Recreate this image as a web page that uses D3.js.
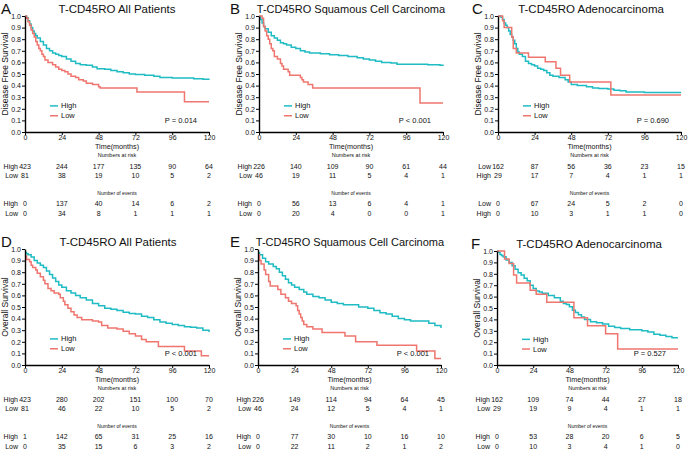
<!DOCTYPE html>
<html>
<head>
<meta charset="utf-8">
<script src="https://cdn.jsdelivr.net/npm/d3@7"></script>
<style>
  body { margin: 0; background: #fff; }
  text { font-family: "Liberation Sans", Arial, sans-serif; fill: #111; }
</style>
</head>
<body>
<svg id="chart" width="689" height="451"></svg>
<script>
const timeTicks = [0, 24, 48, 72, 96, 120];
const survTicks = [0, 0.1, 0.2, 0.3, 0.4, 0.5, 0.6, 0.7, 0.8, 0.9, 1.0];

// curves: [months, survival]
const dfsAllHigh = [[0,1],[1,0.985],[2,0.96],[3,0.93],[4,0.9],[5,0.87],[6,0.85],[7,0.83],[8,0.81],[10,0.78],[12,0.75],[14,0.72],[16,0.7],[18,0.68],[20,0.67],[22,0.66],[24,0.65],[27,0.63],[30,0.61],[33,0.59],[36,0.58],[40,0.575],[44,0.56],[47,0.545],[52,0.54],[56,0.53],[60,0.52],[64,0.51],[68,0.5],[72,0.495],[78,0.49],[84,0.48],[88,0.47],[96,0.465],[110,0.46],[116,0.455],[120,0.45]];
const dfsAllLow = [[0,1],[1,0.98],[2,0.95],[3,0.92],[4,0.88],[5,0.85],[6,0.82],[7,0.78],[8,0.75],[9,0.72],[10,0.7],[11,0.67],[12,0.65],[13,0.62],[15,0.6],[18,0.58],[20,0.56],[22,0.54],[24,0.53],[26,0.52],[28,0.5],[30,0.48],[33,0.47],[35,0.45],[38,0.44],[40,0.42],[44,0.41],[48,0.39],[49,0.38],[73,0.345],[104,0.26],[120,0.26]];

const dfsSccHigh = [[0,1],[1,0.97],[2,0.94],[3,0.91],[4,0.89],[6,0.86],[8,0.83],[10,0.81],[12,0.79],[14,0.77],[16,0.76],[18,0.75],[21,0.73],[24,0.72],[27,0.7],[30,0.69],[33,0.68],[40,0.675],[46,0.665],[52,0.66],[58,0.65],[64,0.64],[68,0.63],[72,0.62],[76,0.61],[80,0.6],[86,0.595],[90,0.585],[110,0.58],[118,0.575],[120,0.57]];
const dfsSccLow = [[0,1],[2,0.98],[3,0.91],[4,0.87],[5,0.83],[6,0.8],[7,0.76],[8,0.72],[9,0.7],[10,0.65],[12,0.63],[14,0.59],[15,0.57],[16,0.54],[19,0.52],[20,0.49],[27,0.47],[28,0.45],[29,0.43],[32,0.41],[35,0.38],[105,0.25],[120,0.25]];

const dfsAdenoHigh = [[0,1],[2,0.99],[3,0.97],[4,0.94],[5,0.92],[6,0.9],[7,0.87],[8,0.84],[9,0.82],[10,0.79],[11,0.76],[12,0.72],[13,0.69],[14,0.67],[16,0.65],[18,0.61],[20,0.59],[22,0.58],[24,0.57],[26,0.55],[28,0.54],[30,0.53],[32,0.51],[34,0.49],[36,0.48],[40,0.47],[44,0.45],[46,0.43],[48,0.41],[52,0.4],[58,0.39],[62,0.38],[66,0.375],[72,0.37],[76,0.36],[80,0.355],[84,0.345],[96,0.34],[120,0.34]];
const dfsAdenoLow = [[0,1],[3,0.96],[4,0.9],[9,0.82],[10,0.72],[12,0.68],[20,0.645],[31,0.605],[38,0.55],[41,0.49],[47,0.43],[74,0.32],[120,0.32]];

const osAllHigh = [[0,0.97],[1,0.96],[2,0.95],[4,0.93],[6,0.9],[8,0.88],[10,0.86],[12,0.84],[14,0.81],[16,0.78],[18,0.75],[20,0.72],[22,0.69],[24,0.67],[27,0.64],[30,0.62],[33,0.6],[36,0.58],[40,0.56],[44,0.53],[48,0.51],[52,0.49],[56,0.48],[60,0.47],[64,0.455],[68,0.445],[72,0.44],[76,0.42],[80,0.41],[84,0.39],[88,0.37],[92,0.36],[96,0.35],[100,0.34],[104,0.33],[108,0.325],[112,0.32],[116,0.3],[120,0.285]];
const osAllLow = [[0,0.94],[1,0.91],[3,0.89],[4,0.86],[5,0.84],[7,0.82],[8,0.79],[10,0.76],[12,0.73],[13,0.7],[15,0.66],[17,0.64],[19,0.62],[22,0.61],[23,0.58],[25,0.55],[26,0.52],[28,0.49],[30,0.46],[32,0.43],[34,0.41],[37,0.39],[44,0.38],[48,0.37],[50,0.34],[54,0.32],[60,0.31],[64,0.29],[68,0.27],[72,0.25],[76,0.22],[79,0.2],[87,0.16],[104,0.12],[115,0.08],[120,0.08]];

const osSccHigh = [[0,0.97],[1,0.95],[3,0.92],[5,0.89],[7,0.87],[10,0.85],[12,0.83],[14,0.8],[16,0.77],[18,0.74],[20,0.71],[22,0.69],[24,0.67],[27,0.65],[30,0.63],[32,0.61],[36,0.59],[40,0.58],[44,0.56],[48,0.54],[52,0.53],[56,0.52],[62,0.52],[66,0.5],[72,0.49],[76,0.47],[80,0.45],[84,0.44],[88,0.42],[92,0.4],[96,0.39],[100,0.38],[108,0.38],[112,0.36],[116,0.34],[120,0.32]];
const osSccLow = [[0,0.95],[1,0.9],[2,0.87],[4,0.82],[5,0.78],[7,0.72],[8,0.68],[13,0.65],[15,0.61],[18,0.58],[20,0.55],[22,0.53],[25,0.51],[26,0.47],[27,0.44],[28,0.41],[29,0.38],[30,0.35],[32,0.33],[36,0.31],[42,0.28],[57,0.25],[64,0.2],[78,0.17],[104,0.12],[116,0.055],[120,0.055]];

const osAdenoHigh = [[0,1],[1,0.99],[2,0.97],[3,0.96],[4,0.95],[6,0.92],[8,0.9],[10,0.87],[12,0.84],[14,0.81],[16,0.79],[18,0.76],[20,0.74],[22,0.7],[24,0.67],[26,0.65],[28,0.64],[30,0.63],[34,0.61],[38,0.59],[42,0.56],[44,0.54],[46,0.53],[48,0.51],[50,0.48],[52,0.46],[54,0.44],[56,0.42],[58,0.4],[62,0.38],[66,0.37],[70,0.36],[74,0.34],[78,0.33],[82,0.32],[88,0.31],[96,0.3],[100,0.29],[104,0.27],[108,0.26],[112,0.25],[116,0.24],[120,0.24]];
const osAdenoLow = [[0,1],[5,0.93],[8,0.89],[11,0.79],[13,0.72],[22,0.655],[26,0.62],[33,0.55],[51,0.415],[60,0.345],[72,0.275],[80,0.14],[120,0.14]];

// numbers at risk / number of events at 0,24,...,120
const riskA = [[423,244,177,135,90,64],[81,38,19,10,5,2]];
const eventsA = [[0,137,40,14,6,2],[0,34,8,1,1,1]];
const riskB = [[226,140,109,90,61,44],[46,19,11,5,4,1]];
const eventsB = [[0,56,13,6,4,1],[0,20,4,0,0,1]];
const riskC = [[162,87,56,36,23,15],[29,17,7,4,1,1]];
const eventsC = [[0,67,24,5,2,0],[0,10,3,1,1,0]];
const riskD = [[423,280,202,151,100,70],[81,46,22,10,5,2]];
const eventsD = [[1,142,65,31,25,16],[0,35,15,6,3,2]];
const riskE = [[226,149,114,94,64,45],[46,24,12,5,4,1]];
const eventsE = [[0,77,30,10,16,10],[0,22,11,2,1,2]];
const riskF = [[162,109,74,44,27,18],[29,19,9,4,1,1]];
const eventsF = [[0,53,28,20,6,5],[0,10,3,4,1,0]];

const TEAL = "#1fbcc3", SALMON = "#ef766f";

const panels = [
  {letter:"A", title:"T-CD45RO All Patients", ylab:"Disease Free Survival", high:dfsAllHigh, low:dfsAllLow, p:"P = 0.014",
   rows:["High","Low"], risk:riskA, events:eventsA, left:25, right:209, top:16, bottom:132, letterX:1, titleX:117, titleSize:11.5},
  {letter:"B", title:"T-CD45RO Squamous Cell Carcinoma", ylab:"Disease Free Survival", high:dfsSccHigh, low:dfsSccLow, p:"P < 0.001",
   rows:["High","Low"], risk:riskB, events:eventsB, left:259, right:443, top:16, bottom:132, letterX:230, titleX:351, titleSize:11},
  {letter:"C", title:"T-CD45RO Adenocarcinoma", ylab:"Disease Free Survival", high:dfsAdenoHigh, low:dfsAdenoLow, p:"P = 0.690",
   rows:["Low","High"], risk:riskC, events:eventsC, left:498, right:681, top:16, bottom:132, letterX:472, titleX:591, titleSize:11.5},
  {letter:"D", title:"T-CD45RO All Patients", ylab:"Overall Survival", high:osAllHigh, low:osAllLow, p:"P < 0.001",
   rows:["High","Low"], risk:riskD, events:eventsD, left:25, right:209, top:249, bottom:365, letterX:1, titleX:118, titleSize:11.5},
  {letter:"E", title:"T-CD45RO Squamous Cell Carcinoma", ylab:"Overall Survival", high:osSccHigh, low:osSccLow, p:"P < 0.001",
   rows:["High","Low"], risk:riskE, events:eventsE, left:258, right:441, top:249, bottom:365, letterX:230, titleX:350, titleSize:11},
  {letter:"F", title:"T-CD45RO Adenocarcinoma", ylab:"Overall Survival", high:osAdenoHigh, low:osAdenoLow, p:"P = 0.527",
   rows:["High","Low"], risk:riskF, events:eventsF, left:497, right:678, top:251, bottom:365, letterX:471, titleX:589, titleSize:11.5}
];

const svg = d3.select("#chart");

function drawPanel(p) {
  const x = d3.scaleLinear().domain([0, 120]).range([p.left, p.right]);
  const y = d3.scaleLinear().domain([0, 1]).range([p.bottom, p.top]);
  const g = svg.append("g");

  // panel letter + title
  g.append("text").attr("x", p.letterX).attr("y", p.top - 2)
    .style("font-size", "15px").text(p.letter);
  g.append("text").attr("x", p.titleX).attr("y", p.top - 7)
    .attr("dominant-baseline", "central").attr("text-anchor", "middle")
    .style("font-size", p.titleSize + "px").text(p.title);

  // curves
  const line = d3.line().x(d => x(d[0])).y(d => y(d[1])).curve(d3.curveStepAfter);
  g.append("path").datum(p.high).attr("d", line)
    .attr("fill", "none").attr("stroke", TEAL).attr("stroke-width", 1.5);
  g.append("path").datum(p.low).attr("d", line)
    .attr("fill", "none").attr("stroke", SALMON).attr("stroke-width", 1.5);

  // axes
  const xAxis = g.append("g").attr("transform", `translate(0,${p.bottom})`)
    .call(d3.axisBottom(x).tickValues(timeTicks).tickSize(3).tickSizeOuter(0).tickPadding(0));
  const yAxis = g.append("g").attr("transform", `translate(${p.left},0)`)
    .call(d3.axisLeft(y).tickValues(survTicks).tickFormat(d3.format(".1f")).tickSize(3).tickSizeOuter(0).tickPadding(1));
  [xAxis, yAxis].forEach(a => {
    a.select(".domain").attr("stroke", "#000").attr("stroke-width", 1.4);
    a.selectAll(".tick line").attr("stroke", "#000").attr("stroke-width", 1);
    a.selectAll(".tick text").style("font-size", "7px")
      .style("font-family", "'Liberation Sans', Arial, sans-serif").attr("fill", "#222");
  });

  // y label
  g.append("text")
    .attr("transform", `translate(${p.left - 20},${(p.top + p.bottom) / 2}) rotate(-90)`)
    .attr("text-anchor", "middle").attr("dominant-baseline", "central")
    .style("font-size", "8.5px").text(p.ylab);

  // legend
  [["High", TEAL, 0.225], ["Low", SALMON, 0.14]].forEach(([name, col, v]) => {
    g.append("line").attr("x1", p.left + 25).attr("x2", p.left + 33)
      .attr("y1", y(v)).attr("y2", y(v)).attr("stroke", col).attr("stroke-width", 1.5);
    g.append("text").attr("x", p.left + 36).attr("y", y(v))
      .attr("dominant-baseline", "central").style("font-size", "7.5px").text(name);
  });

  // p value
  g.append("text").attr("x", p.right - 12).attr("y", y(0.1))
    .attr("dominant-baseline", "central").attr("text-anchor", "end")
    .style("font-size", "7.5px").text(p.p);

  // x label
  g.append("text").attr("x", (p.left + p.right) / 2).attr("y", p.bottom + 14.5)
    .attr("dominant-baseline", "central").attr("text-anchor", "middle")
    .style("font-size", "7.2px").text("Time(months)");

  // tables
  const midX = (p.left + p.right) / 2;
  g.append("text").attr("x", midX).attr("y", p.bottom + 23)
    .attr("dominant-baseline", "central").attr("text-anchor", "middle")
    .style("font-size", "5.5px").text("Numbers at risk");
  g.append("text").attr("x", midX).attr("y", p.bottom + 61)
    .attr("dominant-baseline", "central").attr("text-anchor", "middle")
    .style("font-size", "5px").text("Number of events");

  const table = (vals, yPos) => {
    vals.forEach((row, i) => {
      g.append("text").attr("x", p.left - 7).attr("y", yPos[i])
        .attr("dominant-baseline", "central").attr("text-anchor", "end")
        .style("font-size", "7px").text(p.rows[i]);
      row.forEach((v, j) => {
        g.append("text").attr("x", x(timeTicks[j])).attr("y", yPos[i])
          .attr("dominant-baseline", "central").attr("text-anchor", "middle")
          .style("font-size", "7px").text(v);
      });
    });
  };
  table(p.risk, [p.bottom + 34, p.bottom + 43]);
  table(p.events, [p.bottom + 71, p.bottom + 81]);
}

panels.forEach(drawPanel);
</script>
</body>
</html>
